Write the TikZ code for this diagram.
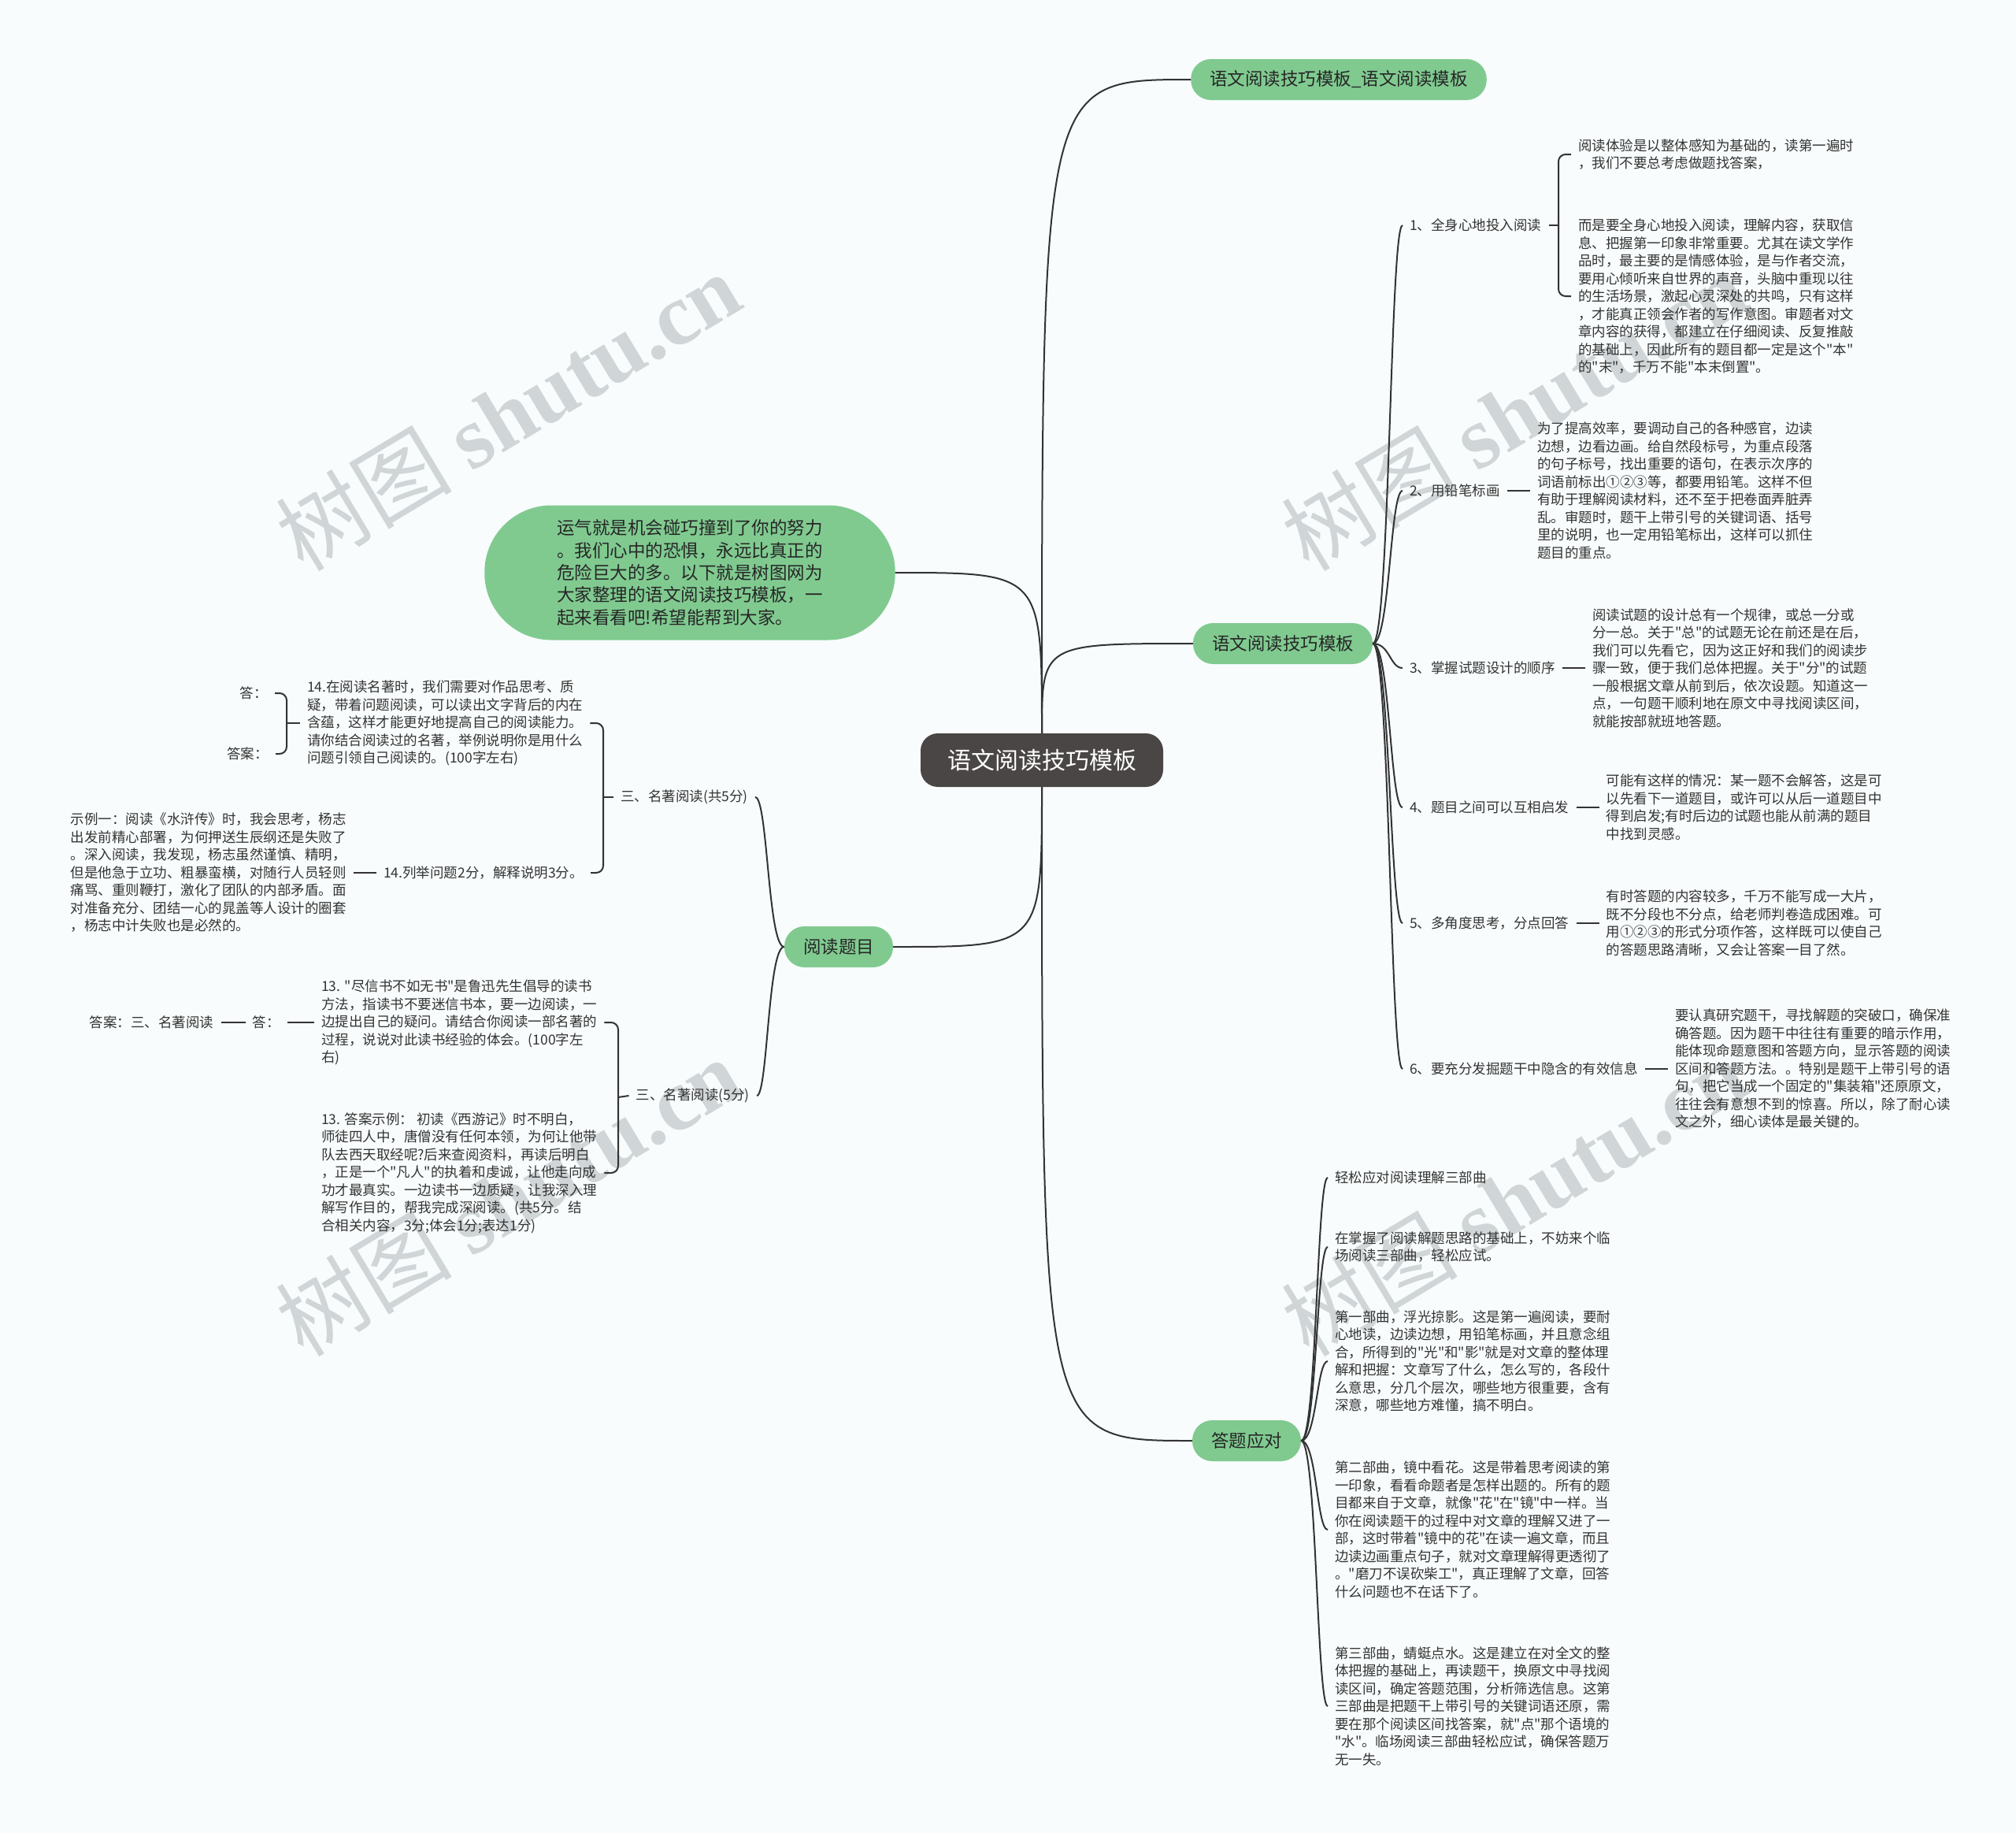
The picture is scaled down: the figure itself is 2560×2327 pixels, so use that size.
\documentclass[tikz,border=0pt]{standalone}
\usepackage{fontspec}
\setmainfont{Noto Sans CJK SC}[Ligatures=TeXOff]
\newfontfamily\wmfont{Liberation Serif}
\usetikzlibrary{positioning}

\definecolor{bgc}{HTML}{F8FCFC}
\definecolor{linec}{HTML}{333333}
\definecolor{textc}{HTML}{333333}
\definecolor{greenc}{HTML}{80CA90}
\definecolor{rootc}{HTML}{4B4646}
\definecolor{wmc}{HTML}{D0D5D7}

\tikzset{
  link/.style={draw=linec, line width=2pt},
  txt/.style={font=\fontsize{17.5}{22.5}\selectfont, text=textc, align=left, inner sep=9pt},
  topic/.style={fill=greenc, text=black!85, rounded corners=25.5pt, minimum height=52pt,
    inner xsep=24pt, font=\fontsize{22.5}{28.3}\selectfont},
  rootbox/.style={fill=rootc, text=white, rounded corners=22pt, minimum width=308pt,
    minimum height=68pt, font=\fontsize{30}{36}\selectfont},
  wm/.style={text=wmc, rotate=31, font=\fontsize{112}{120}\selectfont}
}

\begin{document}
\begin{tikzpicture}[x=1pt, y=-1pt]
\useasboundingbox (0,0) rectangle (2560,2327);
\fill[bgc] (0,0) rectangle (2560,2327);

% watermarks
\foreach \wx/\wy in {645/522, 1922/522, 645/1519, 1922/1519}{
  \node[wm] at (\wx,\wy) {树图 {\wmfont\bfseries shutu.cn}};
}

% root and main topics
\node[rootbox] (root) at (1323,965) {语文阅读技巧模板};
\node[topic] (b1) at (1700,101) {语文阅读技巧模板\_语文阅读模板};
\node[topic] (b2) at (1629,817) {语文阅读技巧模板};
\node[topic] (b3) at (1065,1202) {阅读题目};
\node[topic] (b4) at (1583,1829) {答题应对};
\node[topic, rounded corners=85pt, minimum height=171pt, inner xsep=92pt, align=left] (intro) at (876,727)
  {运气就是机会碰巧撞到了你的努力\\。我们心中的恐惧，永远比真正的\\危险巨大的多。以下就是树图网为\\大家整理的语文阅读技巧模板，一\\起来看看吧!希望能帮到大家。};

\draw[link] (root.north) .. controls (root.north |- b1.west) .. (b1.west);
\draw[link] (root.north) .. controls (root.north |- b2.west) .. (b2.west);
\draw[link] (intro.east) .. controls (root.north |- intro.east) .. (root.north);
\draw[link] (root.south) .. controls (root.south |- b3.east) .. (b3.east);
\draw[link] (root.south) .. controls (root.south |- b4.west) .. (b4.west);

% reading skills
\coordinate (s2) at (1765,817);
\foreach \n/\y/\t in {1/286/全身心地投入阅读, 2/623/用铅笔标画, 3/848/掌握试题设计的顺序,
    4/1025/题目之间可以互相启发, 5/1172/多角度思考，分点回答, 6/1357/要充分发掘题干中隐含的有效信息}{
  \node[txt, anchor=west] (i\n) at (1781,\y) {\n、\t};
  \draw[link] (b2.east) .. controls (s2) and (s2 |- i\n.west) .. (i\n.west);
}

\node[txt, anchor=west] (t11) at (1995,196)
  {阅读体验是以整体感知为基础的，读第一遍时\\，我们不要总考虑做题找答案，};
\node[txt, anchor=west] (t12) at (1995,376)
  {而是要全身心地投入阅读，理解内容，获取信\\息、把握第一印象非常重要。尤其在读文学作\\品时，最主要的是情感体验，是与作者交流，\\要用心倾听来自世界的声音，头脑中重现以往\\的生活场景，激起心灵深处的共鸣，只有这样\\，才能真正领会作者的写作意图。审题者对文\\章内容的获得，都建立在仔细阅读、反复推敲\\的基础上，因此所有的题目都一定是这个"本"\\的"末"，千万不能"本末倒置"。};
\coordinate (s21) at (1979,286);
\draw[link] (i1.east) -- (s21);
\draw[link, rounded corners=9pt] (t11.west) -| (s21) |- (t12.west);

\node[txt, right=29pt of i2] (t2)
  {为了提高效率，要调动自己的各种感官，边读\\边想，边看边画。给自然段标号，为重点段落\\的句子标号，找出重要的语句，在表示次序的\\词语前标出①②③等，都要用铅笔。这样不但\\有助于理解阅读材料，还不至于把卷面弄脏弄\\乱。审题时，题干上带引号的关键词语、括号\\里的说明，也一定用铅笔标出，这样可以抓住\\题目的重点。};
\node[txt, right=29pt of i3] (t3)
  {阅读试题的设计总有一个规律，或总一分或\\分一总。关于"总"的试题无论在前还是在后，\\我们可以先看它，因为这正好和我们的阅读步\\骤一致，便于我们总体把握。关于"分"的试题\\一般根据文章从前到后，依次设题。知道这一\\点，一句题干顺利地在原文中寻找阅读区间，\\就能按部就班地答题。};
\node[txt, right=29pt of i4] (t4)
  {可能有这样的情况：某一题不会解答，这是可\\以先看下一道题目，或许可以从后一道题目中\\得到启发;有时后边的试题也能从前满的题目\\中找到灵感。};
\node[txt, right=29pt of i5] (t5)
  {有时答题的内容较多，千万不能写成一大片，\\既不分段也不分点，给老师判卷造成困难。可\\用①②③的形式分项作答，这样既可以使自己\\的答题思路清晰，又会让答案一目了然。};
\node[txt, right=29pt of i6] (t6)
  {要认真研究题干，寻找解题的突破口，确保准\\确答题。因为题干中往往有重要的暗示作用，\\能体现命题意图和答题方向，显示答题的阅读\\区间和答题方法。。特别是题干上带引号的语\\句，把它当成一个固定的"集装箱"还原原文，\\往往会有意想不到的惊喜。所以，除了耐心读\\文之外，细心读体是最关键的。};
\foreach \n in {2,...,6}{
  \draw[link] (i\n) -- (t\n);
}

% answering
\node[txt, anchor=west] (r1) at (1686,1495) {轻松应对阅读理解三部曲};
\node[txt, anchor=west] (r2) at (1686,1583)
  {在掌握了阅读解题思路的基础上，不妨来个临\\场阅读三部曲，轻松应试。};
\node[txt, anchor=west] (r3) at (1686,1728)
  {第一部曲，浮光掠影。这是第一遍阅读，要耐\\心地读，边读边想，用铅笔标画，并且意念组\\合，所得到的"光"和"影"就是对文章的整体理\\解和把握：文章写了什么，怎么写的，各段什\\么意思，分几个层次，哪些地方很重要，含有\\深意，哪些地方难懂，搞不明白。};
\node[txt, anchor=west] (r4) at (1686,1942)
  {第二部曲，镜中看花。这是带着思考阅读的第\\一印象，看看命题者是怎样出题的。所有的题\\目都来自于文章，就像"花"在"镜"中一样。当\\你在阅读题干的过程中对文章的理解又进了一\\部，这时带着"镜中的花"在读一遍文章，而且\\边读边画重点句子，就对文章理解得更透彻了\\。"磨刀不误砍柴工"，真正理解了文章，回答\\什么问题也不在话下了。};
\node[txt, anchor=west] (r5) at (1686,2166)
  {第三部曲，蜻蜓点水。这是建立在对全文的整\\体把握的基础上，再读题干，换原文中寻找阅\\读区间，确定答题范围，分析筛选信息。这第\\三部曲是把题干上带引号的关键词语还原，需\\要在那个阅读区间找答案，就"点"那个语境的\\"水"。临场阅读三部曲轻松应试，确保答题万\\无一失。};
\coordinate (s4) at (1672,1829);
\foreach \n in {r1,r2,r3,r4,r5}{
  \draw[link] (b4.east) .. controls (s4) and (s4 |- \n.west) .. (\n.west);
}

% reading questions
\node[txt, anchor=east] (m1) at (959,1012) {三、名著阅读(共5分)};
\node[txt, anchor=east] (m2) at (961,1391) {三、名著阅读(5分)};
\coordinate (s3) at (975,1202);
\foreach \n in {m1,m2}{
  \draw[link] (b3.west) .. controls (s3) and (s3 |- \n.east) .. (\n.east);
}

\node[txt, anchor=west] (c1) at (381,918)
  {14.在阅读名著时，我们需要对作品思考、质\\疑，带着问题阅读，可以读出文字背后的内在\\含蕴，这样才能更好地提高自己的阅读能力。\\请你结合阅读过的名著，举例说明你是用什么\\问题引领自己阅读的。(100字左右)};
\node[txt, anchor=west] (c2) at (478,1108) {14.列举问题2分，解释说明3分。};
\coordinate (sA) at (766,1012);
\draw[link] (sA) -- (m1.west);
\draw[link, rounded corners=9pt] (c1.east) -| (sA) |- (c2.east);

\node[txt, anchor=east] (a1) at (349,880) {答：};
\node[txt, anchor=east] (a2) at (350,957) {答案：};
\coordinate (sB) at (364,918);
\draw[link] (c1.west) -- (sB);
\draw[link, rounded corners=9pt] (a1.east) -| (sB) |- (a2.east);

\node[txt, left=29pt of c2] (c3)
  {示例一：阅读《水浒传》时，我会思考，杨志\\出发前精心部署，为何押送生辰纲还是失败了\\。深入阅读，我发现，杨志虽然谨慎、精明，\\但是他急于立功、粗暴蛮横，对随行人员轻则\\痛骂、重则鞭打，激化了团队的内部矛盾。面\\对准备充分、团结一心的晁盖等人设计的圈套\\，杨志中计失败也是必然的。};
\draw[link] (c2) -- (c3);

\node[txt, anchor=west] (d1) at (399,1298)
  {13. "尽信书不如无书"是鲁迅先生倡导的读书\\方法，指读书不要迷信书本，要一边阅读，一\\边提出自己的疑问。请结合你阅读一部名著的\\过程，说说对此读书经验的体会。(100字左\\右)};
\node[txt, anchor=west] (d2) at (399,1489)
  {13. 答案示例：\ 初读《西游记》时不明白，\\师徒四人中，唐僧没有任何本领，为何让他带\\队去西天取经呢?后来查阅资料，再读后明白\\，正是一个"凡人"的执着和虔诚，让他走向成\\功才最真实。一边读书一边质疑，让我深入理\\解写作目的，帮我完成深阅读。(共5分。结\\合相关内容，3分;体会1分;表达1分)};
\coordinate (sC) at (785,1393);
\draw[link] (sC) -- (m2.west);
\draw[link, rounded corners=9pt] (d1.east) -| (sC) |- (d2.east);

\node[txt, left=34pt of d1] (e1) {答：};
\node[txt, left=31pt of e1] (e2) {答案：三、名著阅读};
\draw[link] (d1) -- (e1);
\draw[link] (e1) -- (e2);

\end{tikzpicture}
\end{document}
